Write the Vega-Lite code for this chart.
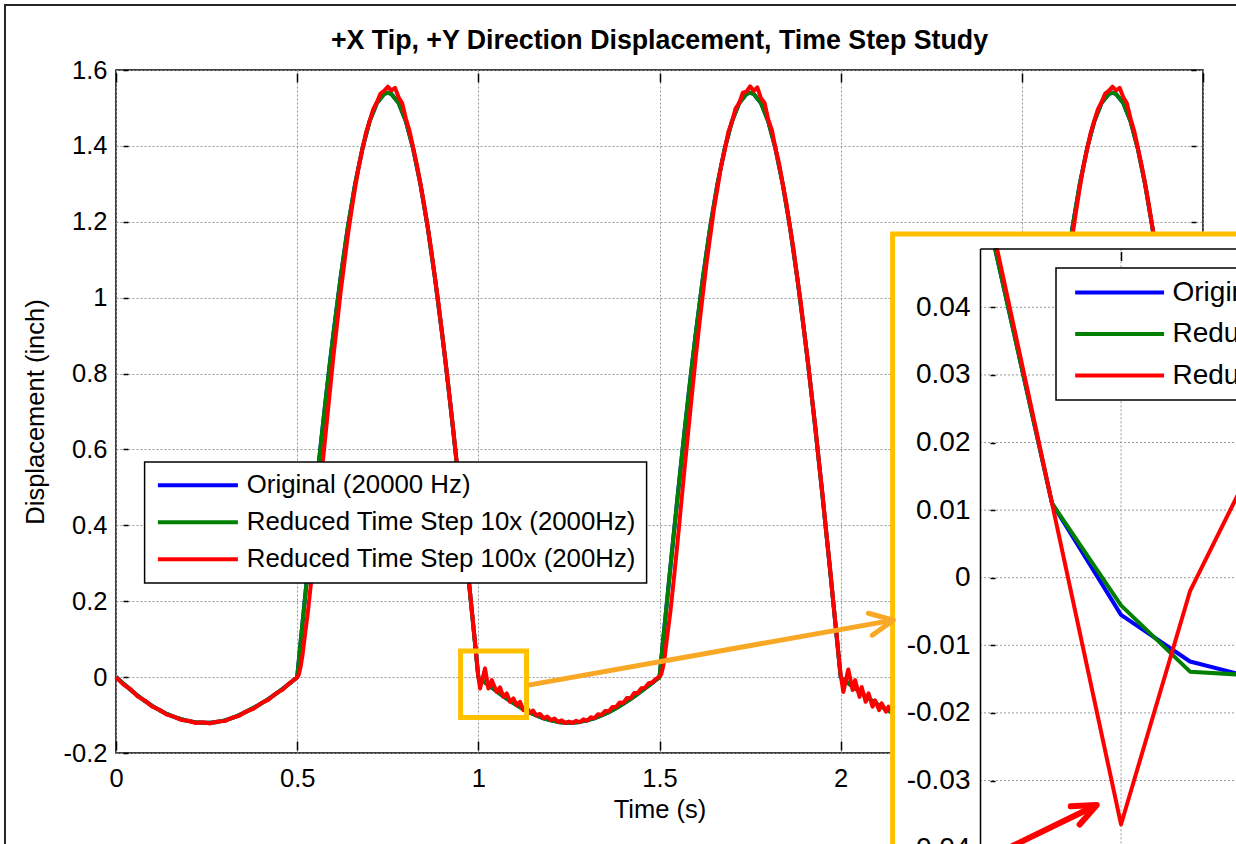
{
"$schema": "https://vega.github.io/schema/vega-lite/v6.json",
"width": 1087, "height": 683,
"autosize": {"type": "none"},
"padding": {"left": 116, "top": 70, "right": 33, "bottom": 91},
"background": "white",
"title": {"text": "+X Tip, +Y Direction Displacement, Time Step Study", "font": "Liberation Sans", "fontSize": 26.75, "fontWeight": "bold", "color": "black", "anchor": "middle", "frame": "group", "offset": -51},
"config": {
  "view": {"stroke": "black", "strokeWidth": 1.5},
  "font": "Liberation Sans",
  "locale": {"number": {"decimal": ".", "thousands": ",", "grouping": [3], "currency": ["$", ""], "minus": "-"}},
  "axis": {"labelFont": "Liberation Sans", "titleFont": "Liberation Sans", "labelColor": "black", "titleColor": "black", "labelFontSize": 25.5, "titleFontSize": 25.5, "titleFontWeight": "normal", "tickColor": "black", "tickWidth": 1.5, "domain": false, "domainColor": "black", "domainWidth": 1.5, "gridColor": "#999999", "gridDash": [2, 2], "gridWidth": 1, "gridOpacity": 1, "labelFlush": false, "labelOverlap": false},
  "legend": {"labelFont": "Liberation Sans", "labelColor": "black", "strokeColor": "black", "fillColor": "white", "strokeWidth": 1.5, "cornerRadius": 0}
},
"datasets": {
  "figBorder": [{"x1": -0.3064, "x2": 3.6, "y1": 1.7712, "y2": -0.6}],
  "zoomBox": [{"x1": 0.951, "x2": 1.133, "y1": 0.0685, "y2": -0.1067}],
  "insetFrame": [{"x1": 2.1433, "x2": 3.6, "y1": 1.1676, "y2": -0.6}],
  "orangeArrow": [{"x1": 1.138, "y1": -0.0211, "x2": 2.1455, "y2": 0.1502}],
  "redArrow": [{"x1": 0.99123, "y1": -0.04058, "x2": 0.99824, "y2": -0.03362}],
  "insetYGrid": [{"v": -0.04}, {"v": -0.03}, {"v": -0.02}, {"v": -0.01}, {"v": 0}, {"v": 0.01}, {"v": 0.02}, {"v": 0.03}, {"v": 0.04}],
  "insetXGrid": [{"v": 1.0}],
  "insetB": [{"t": 0.99087, "y": 0.0487}, {"t": 0.995, "y": 0.011}, {"t": 1.0, "y": -0.0055}, {"t": 1.005, "y": -0.0124}, {"t": 1.01, "y": -0.015}],
  "insetG": [{"t": 0.99087, "y": 0.0487}, {"t": 0.995, "y": 0.011}, {"t": 1.0, "y": -0.0041}, {"t": 1.005, "y": -0.0139}, {"t": 1.01, "y": -0.0145}],
  "insetR": [{"t": 0.99101, "y": 0.0487}, {"t": 0.995, "y": 0.011}, {"t": 1.0, "y": -0.0365}, {"t": 1.005, "y": -0.002}, {"t": 1.01, "y": 0.0186}],
  "mainBG": [
    {"t":0,"y":0},{"t":0.02,"y":-0.017},{"t":0.04,"y":-0.033},{"t":0.06,"y":-0.049},{"t":0.08,"y":-0.063},{"t":0.1,"y":-0.076},{"t":0.12,"y":-0.087},{"t":0.14,"y":-0.097},{"t":0.16,"y":-0.105},{"t":0.18,"y":-0.111},{"t":0.2,"y":-0.116},{"t":0.22,"y":-0.119},{"t":0.24,"y":-0.12},{"t":0.26,"y":-0.12},{"t":0.28,"y":-0.118},{"t":0.3,"y":-0.114},{"t":0.32,"y":-0.108},{"t":0.34,"y":-0.1},{"t":0.36,"y":-0.091},{"t":0.38,"y":-0.081},{"t":0.4,"y":-0.07},{"t":0.42,"y":-0.058},{"t":0.44,"y":-0.045},{"t":0.46,"y":-0.031},{"t":0.48,"y":-0.016},{"t":0.5,"y":0},
    {"t":0.51,"y":0.097},{"t":0.52,"y":0.193},{"t":0.53,"y":0.289},{"t":0.54,"y":0.383},{"t":0.55,"y":0.476},{"t":0.56,"y":0.567},{"t":0.57,"y":0.656},{"t":0.58,"y":0.742},{"t":0.59,"y":0.825},{"t":0.6,"y":0.905},{"t":0.62,"y":1.054},{"t":0.64,"y":1.187},{"t":0.66,"y":1.3},{"t":0.68,"y":1.393},{"t":0.7,"y":1.465},{"t":0.72,"y":1.513},{"t":0.74,"y":1.537},{"t":0.75,"y":1.54},{"t":0.76,"y":1.537},{"t":0.78,"y":1.513},{"t":0.8,"y":1.465},{"t":0.82,"y":1.393},{"t":0.84,"y":1.3},{"t":0.86,"y":1.187},{"t":0.88,"y":1.054},{"t":0.9,"y":0.905},{"t":0.91,"y":0.825},{"t":0.92,"y":0.742},{"t":0.93,"y":0.656},{"t":0.94,"y":0.567},{"t":0.95,"y":0.476},{"t":0.96,"y":0.383},{"t":0.97,"y":0.289},{"t":0.98,"y":0.193},{"t":0.99,"y":0.097},{"t":1,"y":0},
    {"t":1.01,"y":-0.0075},{"t":1.02,"y":-0.015},{"t":1.04,"y":-0.03},{"t":1.06,"y":-0.044},{"t":1.08,"y":-0.058},{"t":1.1,"y":-0.0705},{"t":1.12,"y":-0.082},{"t":1.14,"y":-0.0925},{"t":1.16,"y":-0.101},{"t":1.18,"y":-0.1085},{"t":1.2,"y":-0.114},{"t":1.22,"y":-0.118},{"t":1.24,"y":-0.12},{"t":1.26,"y":-0.12},{"t":1.28,"y":-0.118},{"t":1.3,"y":-0.114},{"t":1.32,"y":-0.1085},{"t":1.34,"y":-0.101},{"t":1.36,"y":-0.0925},{"t":1.38,"y":-0.082},{"t":1.4,"y":-0.0705},{"t":1.42,"y":-0.058},{"t":1.44,"y":-0.044},{"t":1.46,"y":-0.03},{"t":1.48,"y":-0.015},{"t":1.5,"y":0},
    {"t":1.51,"y":0.097},{"t":1.52,"y":0.193},{"t":1.53,"y":0.289},{"t":1.54,"y":0.383},{"t":1.55,"y":0.476},{"t":1.56,"y":0.567},{"t":1.57,"y":0.656},{"t":1.58,"y":0.742},{"t":1.59,"y":0.825},{"t":1.6,"y":0.905},{"t":1.62,"y":1.054},{"t":1.64,"y":1.187},{"t":1.66,"y":1.3},{"t":1.68,"y":1.393},{"t":1.7,"y":1.465},{"t":1.72,"y":1.513},{"t":1.74,"y":1.537},{"t":1.75,"y":1.54},{"t":1.76,"y":1.537},{"t":1.78,"y":1.513},{"t":1.8,"y":1.465},{"t":1.82,"y":1.393},{"t":1.84,"y":1.3},{"t":1.86,"y":1.187},{"t":1.88,"y":1.054},{"t":1.9,"y":0.905},{"t":1.91,"y":0.825},{"t":1.92,"y":0.742},{"t":1.93,"y":0.656},{"t":1.94,"y":0.567},{"t":1.95,"y":0.476},{"t":1.96,"y":0.383},{"t":1.97,"y":0.289},{"t":1.98,"y":0.193},{"t":1.99,"y":0.097},{"t":2,"y":0},
    {"t":2.01,"y":-0.0075},{"t":2.02,"y":-0.015},{"t":2.04,"y":-0.03},{"t":2.06,"y":-0.044},{"t":2.08,"y":-0.058},{"t":2.1,"y":-0.0705},{"t":2.12,"y":-0.082},{"t":2.14,"y":-0.0925},{"t":2.16,"y":-0.101},{"t":2.18,"y":-0.1085},{"t":2.2,"y":-0.114},{"t":2.22,"y":-0.118},{"t":2.24,"y":-0.12},{"t":2.26,"y":-0.12},{"t":2.28,"y":-0.118},{"t":2.3,"y":-0.114},{"t":2.32,"y":-0.1085},{"t":2.34,"y":-0.101},{"t":2.36,"y":-0.0925},{"t":2.38,"y":-0.082},{"t":2.4,"y":-0.0705},{"t":2.42,"y":-0.058},{"t":2.44,"y":-0.044},{"t":2.46,"y":-0.03},{"t":2.48,"y":-0.015},{"t":2.5,"y":0},
    {"t":2.51,"y":0.097},{"t":2.52,"y":0.193},{"t":2.53,"y":0.289},{"t":2.54,"y":0.383},{"t":2.55,"y":0.476},{"t":2.56,"y":0.567},{"t":2.57,"y":0.656},{"t":2.58,"y":0.742},{"t":2.59,"y":0.825},{"t":2.6,"y":0.905},{"t":2.62,"y":1.054},{"t":2.64,"y":1.187},{"t":2.66,"y":1.3},{"t":2.68,"y":1.393},{"t":2.7,"y":1.465},{"t":2.72,"y":1.513},{"t":2.74,"y":1.537},{"t":2.75,"y":1.54},{"t":2.76,"y":1.537},{"t":2.78,"y":1.513},{"t":2.8,"y":1.465},{"t":2.82,"y":1.393},{"t":2.84,"y":1.3},{"t":2.86,"y":1.187},{"t":2.88,"y":1.054},{"t":2.9,"y":0.905},{"t":2.92,"y":0.742},{"t":2.94,"y":0.567},{"t":2.96,"y":0.383},{"t":2.98,"y":0.193},{"t":3,"y":0}
  ],
  "mainR": [
    {"t":0,"y":0},{"t":0.02,"y":-0.019},{"t":0.04,"y":-0.032},{"t":0.06,"y":-0.051},{"t":0.08,"y":-0.062},{"t":0.1,"y":-0.078},{"t":0.12,"y":-0.086},{"t":0.14,"y":-0.099},{"t":0.16,"y":-0.104},{"t":0.18,"y":-0.113},{"t":0.2,"y":-0.115},{"t":0.22,"y":-0.121},{"t":0.24,"y":-0.119},{"t":0.26,"y":-0.122},{"t":0.28,"y":-0.117},{"t":0.3,"y":-0.116},{"t":0.32,"y":-0.107},{"t":0.34,"y":-0.102},{"t":0.36,"y":-0.09},{"t":0.38,"y":-0.083},{"t":0.4,"y":-0.069},{"t":0.42,"y":-0.06},{"t":0.44,"y":-0.044},{"t":0.46,"y":-0.033},{"t":0.48,"y":-0.015},{"t":0.5,"y":-0.001},
    {"t":0.505,"y":0.008},{"t":0.51,"y":0.03},{"t":0.515,"y":0.06},{"t":0.52,"y":0.1},{"t":0.53,"y":0.175},{"t":0.54,"y":0.265},{"t":0.55,"y":0.36},{"t":0.56,"y":0.46},{"t":0.57,"y":0.56},{"t":0.58,"y":0.655},{"t":0.59,"y":0.75},{"t":0.6,"y":0.845},{"t":0.61,"y":0.93},{"t":0.62,"y":1.015},{"t":0.63,"y":1.09},{"t":0.64,"y":1.165},{"t":0.65,"y":1.23},{"t":0.66,"y":1.29},{"t":0.67,"y":1.345},{"t":0.68,"y":1.39},{"t":0.69,"y":1.435},{"t":0.7,"y":1.465},{"t":0.71,"y":1.497},{"t":0.72,"y":1.515},{"t":0.73,"y":1.538},{"t":0.74,"y":1.545},{"t":0.75,"y":1.556},{"t":0.76,"y":1.546},{"t":0.77,"y":1.553},{"t":0.78,"y":1.528},{"t":0.79,"y":1.512},{"t":0.8,"y":1.472},{"t":0.81,"y":1.44},{"t":0.82,"y":1.396},{"t":0.83,"y":1.352},{"t":0.84,"y":1.302},{"t":0.85,"y":1.248},{"t":0.86,"y":1.189},{"t":0.87,"y":1.126},{"t":0.88,"y":1.056},{"t":0.89,"y":0.985},{"t":0.9,"y":0.907},{"t":0.91,"y":0.828},{"t":0.92,"y":0.744},{"t":0.93,"y":0.66},{"t":0.94,"y":0.57},{"t":0.95,"y":0.48},{"t":0.96,"y":0.386},{"t":0.97,"y":0.292},{"t":0.98,"y":0.196},{"t":0.99,"y":0.1},{"t":0.995,"y":0.05},{"t":1,"y":0.001},
    {"t":1.0047,"y":-0.03},{"t":1.0185,"y":0.023},{"t":1.0277,"y":-0.03},{"t":1.037,"y":-0.008},{"t":1.0508,"y":-0.039},{"t":1.0599,"y":-0.027},{"t":1.069,"y":-0.052},{"t":1.0784,"y":-0.043},{"t":1.0875,"y":-0.065},{"t":1.0967,"y":-0.056},{"t":1.106,"y":-0.074},{"t":1.115,"y":-0.065},{"t":1.124,"y":-0.087},{"t":1.133,"y":-0.079},{"t":1.142,"y":-0.094},{"t":1.151,"y":-0.088},{"t":1.16,"y":-0.101},{"t":1.17,"y":-0.097},{"t":1.18,"y":-0.108},{"t":1.19,"y":-0.104},{"t":1.2,"y":-0.113},
    {"t":1.21,"y":-0.109},{"t":1.22,"y":-0.118},{"t":1.23,"y":-0.114},{"t":1.24,"y":-0.121},{"t":1.25,"y":-0.117},{"t":1.26,"y":-0.121},{"t":1.27,"y":-0.115},{"t":1.28,"y":-0.119},{"t":1.29,"y":-0.111},{"t":1.3,"y":-0.115},{"t":1.31,"y":-0.106},{"t":1.32,"y":-0.108},{"t":1.33,"y":-0.098},{"t":1.34,"y":-0.1},{"t":1.35,"y":-0.089},{"t":1.36,"y":-0.09},{"t":1.37,"y":-0.079},{"t":1.38,"y":-0.079},{"t":1.39,"y":-0.067},{"t":1.4,"y":-0.068},{"t":1.41,"y":-0.055},{"t":1.42,"y":-0.056},{"t":1.43,"y":-0.042},{"t":1.44,"y":-0.042},{"t":1.45,"y":-0.029},{"t":1.46,"y":-0.028},{"t":1.47,"y":-0.016},{"t":1.48,"y":-0.014},{"t":1.49,"y":-0.005},{"t":1.5,"y":0.002},
    {"t":1.505,"y":0.008},{"t":1.51,"y":0.028},{"t":1.515,"y":0.058},{"t":1.52,"y":0.098},{"t":1.53,"y":0.172},{"t":1.54,"y":0.262},{"t":1.55,"y":0.358},{"t":1.56,"y":0.458},{"t":1.57,"y":0.558},{"t":1.58,"y":0.654},{"t":1.59,"y":0.749},{"t":1.6,"y":0.843},{"t":1.61,"y":0.93},{"t":1.62,"y":1.012},{"t":1.63,"y":1.092},{"t":1.64,"y":1.162},{"t":1.65,"y":1.232},{"t":1.66,"y":1.288},{"t":1.67,"y":1.347},{"t":1.68,"y":1.388},{"t":1.69,"y":1.437},{"t":1.7,"y":1.463},{"t":1.71,"y":1.499},{"t":1.72,"y":1.513},{"t":1.73,"y":1.54},{"t":1.74,"y":1.543},{"t":1.75,"y":1.557},{"t":1.76,"y":1.545},{"t":1.77,"y":1.554},{"t":1.78,"y":1.526},{"t":1.79,"y":1.513},{"t":1.8,"y":1.47},{"t":1.81,"y":1.442},{"t":1.82,"y":1.394},{"t":1.83,"y":1.354},{"t":1.84,"y":1.3},{"t":1.85,"y":1.25},{"t":1.86,"y":1.187},{"t":1.87,"y":1.128},{"t":1.88,"y":1.054},{"t":1.89,"y":0.987},{"t":1.9,"y":0.905},{"t":1.91,"y":0.83},{"t":1.92,"y":0.742},{"t":1.93,"y":0.662},{"t":1.94,"y":0.568},{"t":1.95,"y":0.482},{"t":1.96,"y":0.384},{"t":1.97,"y":0.294},{"t":1.98,"y":0.194},{"t":1.99,"y":0.1},{"t":1.995,"y":0.05},{"t":2,"y":0.006},
    {"t":2.0075,"y":-0.039},{"t":2.021,"y":0.02},{"t":2.033,"y":-0.034},{"t":2.04,"y":-0.008},{"t":2.052,"y":-0.052},{"t":2.058,"y":-0.026},{"t":2.069,"y":-0.065},{"t":2.077,"y":-0.043},{"t":2.088,"y":-0.078},{"t":2.095,"y":-0.061},{"t":2.106,"y":-0.087},{"t":2.113,"y":-0.069},{"t":2.125,"y":-0.091},{"t":2.132,"y":-0.078},{"t":2.144,"y":-0.098},{"t":2.155,"y":-0.09},{"t":2.17,"y":-0.104},{"t":2.2,"y":-0.113},{"t":2.25,"y":-0.12},{"t":2.3,"y":-0.114},{"t":2.35,"y":-0.097},{"t":2.4,"y":-0.07},{"t":2.45,"y":-0.037},{"t":2.5,"y":0.001},
    {"t":2.51,"y":0.03},{"t":2.52,"y":0.1},{"t":2.53,"y":0.175},{"t":2.54,"y":0.265},{"t":2.55,"y":0.36},{"t":2.56,"y":0.46},{"t":2.57,"y":0.56},{"t":2.58,"y":0.655},{"t":2.59,"y":0.75},{"t":2.6,"y":0.845},{"t":2.61,"y":0.93},{"t":2.62,"y":1.015},{"t":2.63,"y":1.09},{"t":2.64,"y":1.165},{"t":2.65,"y":1.23},{"t":2.66,"y":1.29},{"t":2.67,"y":1.345},{"t":2.68,"y":1.39},{"t":2.69,"y":1.435},{"t":2.7,"y":1.465},{"t":2.71,"y":1.497},{"t":2.72,"y":1.515},{"t":2.73,"y":1.538},{"t":2.74,"y":1.545},{"t":2.75,"y":1.556},{"t":2.76,"y":1.546},{"t":2.77,"y":1.553},{"t":2.78,"y":1.528},{"t":2.79,"y":1.512},{"t":2.8,"y":1.472},{"t":2.81,"y":1.44},{"t":2.82,"y":1.396},{"t":2.83,"y":1.352},{"t":2.84,"y":1.302},{"t":2.85,"y":1.248},{"t":2.86,"y":1.189},{"t":2.87,"y":1.126},{"t":2.88,"y":1.056},{"t":2.9,"y":0.907},{"t":2.95,"y":0.48},{"t":3,"y":0}
  ]
},
"layer": [
  {
    "layer": [
      {"data": {"name": "figBorder"}, "mark": {"type": "rect", "filled": false, "stroke": "#262626", "strokeWidth": 2},
       "encoding": {"x": {"field": "x1", "type": "quantitative", "axis": null}, "x2": {"field": "x2"}, "y": {"field": "y1", "type": "quantitative", "axis": null}, "y2": {"field": "y2"}}},
      {"data": {"name": "mainBG"}, "mark": {"type": "line", "strokeWidth": 4, "strokeJoin": "round"},
       "encoding": {
         "x": {"field": "t", "type": "quantitative", "scale": {"domain": [0, 3], "nice": false, "zero": false},
               "axis": {"orient": "bottom", "values": [0, 0.5, 1, 1.5, 2, 2.5, 3], "format": "~g", "ticks": false, "labelPadding": 13, "grid": true, "title": "Time (s)", "titlePadding": 6}},
         "y": {"field": "y", "type": "quantitative", "scale": {"domain": [-0.2, 1.6], "nice": false, "zero": false},
               "axis": {"orient": "left", "values": [-0.2, 0, 0.2, 0.4, 0.6, 0.8, 1, 1.2, 1.4, 1.6], "format": "~g", "ticks": false, "labelPadding": 9, "grid": true, "title": "Displacement (inch)", "titlePadding": 15}},
         "color": {"datum": "Original (20000 Hz)",
                   "scale": {"domain": ["Original (20000 Hz)", "Reduced Time Step 10x (2000Hz)", "Reduced Time Step 100x (200Hz)"], "range": ["#0000FF", "#008000", "#FF0000"]},
                   "legend": {"orient": "none", "legendX": 28.6, "legendY": 392, "title": null, "symbolType": "M-1,0L7,0", "symbolSize": 400, "symbolStrokeWidth": 4, "labelFontSize": 25.8, "labelOffset": 66, "rowPadding": 10, "padding": 10.4, "labelLimit": 700}}
       }},
      {"data": {"name": "mainBG"}, "mark": {"type": "line", "strokeWidth": 4, "strokeJoin": "round"},
       "encoding": {
         "x": {"field": "t", "type": "quantitative", "axis": {"orient": "bottom", "values": [0, 0.5, 1, 1.5, 2, 2.5, 3], "labels": false, "grid": false, "tickSize": -12, "tickDash": [0, 3, 9, 40], "title": null}},
         "y": {"field": "y", "type": "quantitative", "axis": {"orient": "left", "values": [-0.2, 0, 0.2, 0.4, 0.6, 0.8, 1, 1.2, 1.4, 1.6], "labels": false, "grid": false, "tickSize": -12, "tickDash": [0, 7, 5, 40], "title": null}},
         "color": {"datum": "Reduced Time Step 10x (2000Hz)"}
       }},
      {"data": {"name": "mainR"}, "mark": {"type": "line", "strokeWidth": 4, "strokeJoin": "round"},
       "encoding": {
         "x": {"field": "t", "type": "quantitative", "axis": null},
         "y": {"field": "y", "type": "quantitative", "axis": null},
         "color": {"datum": "Reduced Time Step 100x (200Hz)"}
       }},
      {"data": {"name": "zoomBox"}, "mark": {"type": "rect", "filled": false, "stroke": "#FFC000", "strokeWidth": 5},
       "encoding": {
         "x": {"field": "x1", "type": "quantitative", "axis": {"orient": "top", "values": [0, 0.5, 1, 1.5, 2, 2.5, 3], "labels": false, "grid": false, "tickSize": -12, "tickDash": [0, 3, 9, 40], "title": null}},
         "x2": {"field": "x2"},
         "y": {"field": "y1", "type": "quantitative", "axis": {"orient": "right", "values": [-0.2, 0, 0.2, 0.4, 0.6, 0.8, 1, 1.2, 1.4, 1.6], "labels": false, "grid": false, "tickSize": -12, "tickDash": [0, 7, 5, 40], "title": null}},
         "y2": {"field": "y2"}
       }},
      {"data": {"name": "insetFrame"}, "mark": {"type": "rect", "fill": "white", "stroke": "#FFC000", "strokeWidth": 5},
       "encoding": {"x": {"field": "x1", "type": "quantitative", "axis": null}, "x2": {"field": "x2"}, "y": {"field": "y1", "type": "quantitative", "axis": null}, "y2": {"field": "y2"}}},
      {"data": {"name": "orangeArrow"}, "mark": {"type": "rule", "stroke": "#F9A825", "strokeWidth": 5},
       "encoding": {"x": {"field": "x1", "type": "quantitative", "axis": null}, "y": {"field": "y1", "type": "quantitative", "axis": null}, "x2": {"field": "x2"}, "y2": {"field": "y2"}}},
      {"data": {"name": "orangeArrow"}, "mark": {"type": "point", "shape": "M-0.9,-0.43L0,0L-0.9,0.43", "size": 2704, "angle": 349.9, "filled": false, "stroke": "#F9A825", "strokeWidth": 5, "opacity": 1, "strokeJoin": "round", "strokeCap": "round"},
       "encoding": {"x": {"field": "x2", "type": "quantitative", "axis": null}, "y": {"field": "y2", "type": "quantitative", "axis": null}}}
    ],
    "resolve": {"axis": {"x": "independent", "y": "independent"}}
  },
  {
    "layer": [
      {"data": {"name": "insetYGrid"}, "mark": {"type": "rule", "stroke": "#999999", "strokeWidth": 1, "strokeDash": [2, 2]},
       "encoding": {"y": {"field": "v", "type": "quantitative", "axis": null}, "x": {"datum": 0.98978, "type": "quantitative", "axis": null}, "x2": {"datum": 1.03}}},
      {"data": {"name": "insetXGrid"}, "mark": {"type": "rule", "stroke": "#999999", "strokeWidth": 1, "strokeDash": [2, 2]},
       "encoding": {"x": {"field": "v", "type": "quantitative", "axis": null}, "y": {"datum": -0.06, "type": "quantitative", "axis": null}, "y2": {"datum": 0.0487}}},
      {"data": {"name": "insetB"}, "mark": {"type": "line", "strokeWidth": 4, "strokeJoin": "round"},
       "encoding": {
         "x": {"field": "t", "type": "quantitative", "scale": {"domain": [0.98978, 1.03], "range": [864, 1419], "nice": false, "zero": false},
               "axis": {"orient": "top", "offset": -178.5, "values": [1.0], "labels": false, "grid": false, "domain": true, "tickSize": -12, "tickDash": [0, 3, 9, 40], "title": null, "zindex": 1}},
         "y": {"field": "y", "type": "quantitative", "scale": {"domain": [-0.06, 0.0487], "range": [913.3, 178.5], "nice": false, "zero": false},
               "axis": {"orient": "left", "offset": -864, "values": [-0.04, -0.03, -0.02, -0.01, 0, 0.01, 0.02, 0.03, 0.04], "format": "~g", "ticks": false, "labelPadding": 10, "labelFontSize": 28, "grid": false, "domain": true, "title": null, "zindex": 1}},
         "color": {"datum": "Original (20000 Hz)",
                   "scale": {"domain": ["Original (20000 Hz)", "Reduced Time Step 10x (2000Hz)", "Reduced Time Step 100x (200Hz)"], "range": ["#0000FF", "#008000", "#FF0000"]},
                   "legend": {"orient": "none", "legendX": 940, "legendY": 198, "title": null, "symbolType": "M-0.48,0L7.52,0", "symbolSize": 494, "symbolStrokeWidth": 4, "labelFontSize": 28, "labelOffset": 78, "rowPadding": 13.5, "padding": 10.5, "labelLimit": 700}}
       }},
      {"data": {"name": "insetG"}, "mark": {"type": "line", "strokeWidth": 4, "strokeJoin": "round"},
       "encoding": {
         "x": {"field": "t", "type": "quantitative", "axis": null},
         "y": {"field": "y", "type": "quantitative", "axis": {"orient": "left", "offset": -864, "values": [-0.04, -0.03, -0.02, -0.01, 0, 0.01, 0.02, 0.03, 0.04], "labels": false, "grid": false, "domain": false, "tickSize": -15, "tickDash": [0, 10, 5, 40], "title": null, "zindex": 1}},
         "color": {"datum": "Reduced Time Step 10x (2000Hz)"}
       }},
      {"data": {"name": "insetR"}, "mark": {"type": "line", "strokeWidth": 4, "strokeJoin": "round"},
       "encoding": {
         "x": {"field": "t", "type": "quantitative", "axis": null},
         "y": {"field": "y", "type": "quantitative", "axis": null},
         "color": {"datum": "Reduced Time Step 100x (200Hz)"}
       }},
      {"data": {"name": "redArrow"}, "mark": {"type": "rule", "stroke": "#FF0000", "strokeWidth": 6},
       "encoding": {"x": {"field": "x1", "type": "quantitative", "axis": null}, "y": {"field": "y1", "type": "quantitative", "axis": null}, "x2": {"field": "x2"}, "y2": {"field": "y2"}}},
      {"data": {"name": "redArrow"}, "mark": {"type": "point", "shape": "M-0.92,-0.39L0,0L-0.92,0.39", "size": 2704, "angle": 334.1, "filled": false, "stroke": "#FF0000", "strokeWidth": 6, "opacity": 1, "strokeJoin": "round", "strokeCap": "round"},
       "encoding": {"x": {"field": "x2", "type": "quantitative", "axis": null}, "y": {"field": "y2", "type": "quantitative", "axis": null}}}
    ],
    "resolve": {"axis": {"x": "independent", "y": "independent"}}
  }
],
"resolve": {"scale": {"x": "independent", "y": "independent", "color": "independent"}}
}
